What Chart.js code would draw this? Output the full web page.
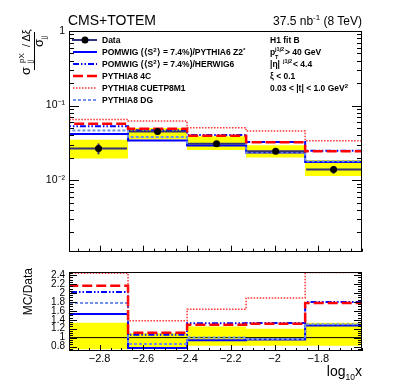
<!DOCTYPE html>
<html>
<head>
<meta charset="utf-8">
<script src="https://cdn.jsdelivr.net/npm/chart.js@4.4.1/dist/chart.umd.min.js"></script>
<style>
body { margin: 0; background: #fff; }
#wrap { position: relative; width: 407px; height: 391px; }
canvas { position: absolute; left: 0; }
#top { top: 0; }
#ratio { top: 262px; }
svg { position: absolute; left: 0; top: 0; }
text { font-family: "Liberation Sans", Arial, Helvetica, sans-serif; fill: #000; }
</style>
</head>
<body>
<div id="wrap">
<canvas id="top" width="407" height="262"></canvas>
<canvas id="ratio" width="407" height="129"></canvas>
<svg width="407" height="391">
  <text x="68" y="25" font-size="14">CMS+TOTEM</text>
  <text x="362" y="25" font-size="12" text-anchor="end">37.5 nb<tspan dy="-5" font-size="8">-1</tspan><tspan dy="5"> (8 TeV)</tspan></text>

  <!-- y title of the top panel -->
  <g transform="translate(0,75) rotate(-90)" font-size="13">
    <text x="0" y="30">σ</text>
    <text x="12" y="24" font-size="8">pX</text>
    <text x="12" y="32" font-size="7">jj</text>
    <text x="28" y="30" font-size="11">/ Δξ</text>
    <line x1="5" x2="43" y1="34.5" y2="34.5" stroke="#000" stroke-width="1"/>
    <text x="28" y="43">σ</text>
    <text x="36" y="45.5" font-size="7">jj</text>
  </g>

  <!-- legend -->
  <g font-size="8.5" font-weight="bold">
    <line x1="72" x2="97" y1="40" y2="40" stroke="#30307a" stroke-width="2"/>
    <circle cx="85" cy="40" r="3.5" fill="#000"/>
    <text x="102" y="43">Data</text>
    <line x1="73" x2="97" y1="52" y2="52" stroke="#0000ff" stroke-width="2"/>
    <text x="102" y="55">POMWIG (⟨S<tspan dy="-3" font-size="6">2</tspan><tspan dy="3">⟩ = 7.4%)/PYTHIA6 Z2</tspan><tspan dy="-3" font-size="6">*</tspan></text>
    <line x1="73" x2="97" y1="64" y2="64" stroke="#0000ff" stroke-width="2" stroke-dasharray="6 2 1.5 2 1.5 2"/>
    <text x="102" y="67">POMWIG (⟨S<tspan dy="-3" font-size="6">2</tspan><tspan dy="3">⟩ = 7.4%)/HERWIG6</tspan></text>
    <line x1="73" x2="97" y1="76" y2="76" stroke="#ff0000" stroke-width="2.5" stroke-dasharray="10 4"/>
    <text x="102" y="79">PYTHIA8 4C</text>
    <line x1="73" x2="97" y1="88" y2="88" stroke="#ff3333" stroke-width="1.5" stroke-dasharray="1.5 1.5"/>
    <text x="102" y="91">PYTHIA8 CUETP8M1</text>
    <line x1="73" x2="97" y1="100" y2="100" stroke="#6f8fe8" stroke-width="2" stroke-dasharray="3 2"/>
    <text x="102" y="103">PYTHIA8 DG</text>

    <text x="270" y="43">H1 fit B</text>
    <text x="270" y="55">p</text>
    <text x="275" y="51" font-size="5.5">j1j2</text>
    <text x="275" y="58.5" font-size="5.5">T</text>
    <text x="285" y="55">&gt; 40 GeV</text>
    <text x="270" y="67">|η|</text>
    <text x="283" y="63" font-size="5.5">j1j2</text>
    <text x="293" y="67">&lt; 4.4</text>
    <text x="270" y="79">ξ &lt; 0.1</text>
    <text x="270" y="91">0.03 &lt; |t| &lt; 1.0 GeV<tspan dy="-3.5" font-size="6">2</tspan></text>
  </g>

  <text transform="translate(32,268) rotate(-90)" text-anchor="end" font-size="12">MC/Data</text>
  <text x="362" y="376" text-anchor="end" font-size="14">log<tspan dy="4" font-size="8.5">10</tspan><tspan dy="-4">x</tspan></text>
</svg>
</div>
<script>
// bins in log10(x)
const edges = [-2.94, -2.67, -2.40, -2.13, -1.86, -1.60];
const centers = [-2.805, -2.535, -2.265, -1.995, -1.73];

// top panel: data and systematic band
const dataVal = [0.0266, 0.0450, 0.0309, 0.0245, 0.0139];
const dataLo = [0.0222, 0.0425, 0.0290, 0.0228, 0.0122];
const dataHi = [0.0310, 0.0478, 0.0330, 0.0262, 0.0155];
const bandLo = [0.0195, 0.0350, 0.0254, 0.0201, 0.0114];
const bandHi = [0.0348, 0.0500, 0.0388, 0.0294, 0.0186];

// top panel: MC predictions, plus the underflow value that sets the left edge
const z2 = [0.0416, 0.0341, 0.0291, 0.0235, 0.0176];
const herwig = [0.0529, 0.0469, 0.0405, 0.0326, 0.0248];
const p4c = [0.0571, 0.0490, 0.0395, 0.0322, 0.0245];
const cuetp = [0.0650, 0.0620, 0.0503, 0.0455, 0.0338];
const dg = [0.0465, 0.0378, 0.0305, 0.0237, 0.0180];
const under = { z2: 0.052, herwig: 0.060, p4c: 0.075, cuetp: 0.085, dg: 0.057 };

// ratio panel
const rZ2 = [1.53, 0.77, 0.94, 0.96, 1.27];
const rHerwig = [2.02, 1.065, 1.32, 1.33, 1.80];
const r4c = [2.16, 1.11, 1.29, 1.31, 1.775];
const rCuetp = [2.44, 1.38, 1.635, 1.89, 2.46];
const rDg = [1.775, 0.855, 1.00, 0.97, 1.30];
const rBandLo = [0.74, 0.78, 0.82, 0.82, 0.82];
const rBandHi = [1.335, 1.10, 1.25, 1.20, 1.335];
const rUnder = 5;
const refLine = 1;

// ticks
const xTickVals = [-2.8, -2.6, -2.4, -2.2, -2.0, -1.8];
const xTickLabels = ['\u22122.8', '\u22122.6', '\u22122.4', '\u22122.2', '\u22122', '\u22121.8'];
const topTickVals = [0.01, 0.1, 1];
const topTickLabels = ['10\u207B\u00B2', '10\u207B\u00B9', '1'];
const ratioTickVals = [0.8, 1, 1.2, 1.4, 1.6, 1.8, 2, 2.2, 2.4];
const ratioTickLabels = ['0.8', '1', '1.2', '1.4', '1.6', '1.8', '2', '2.2', '2.4'];

const FONT = '"Liberation Sans", Arial, Helvetica, sans-serif';
const dataLine = '#30307a';

const styles = {
  z2: { borderColor: '#0000ff', borderWidth: 2, borderDash: [] },
  herwig: { borderColor: '#0000ff', borderWidth: 2, borderDash: [6, 2, 1.5, 2, 1.5, 2] },
  p4c: { borderColor: '#ff0000', borderWidth: 2.5, borderDash: [10, 4] },
  cuetp: { borderColor: '#ff3333', borderWidth: 1.5, borderDash: [1.5, 1.5] },
  dg: { borderColor: '#6f8fe8', borderWidth: 2, borderDash: [3, 2] }
};

function hist(vals, u) {
  const pts = [];
  if (u !== undefined) pts.push({ x: edges[0], y: u });
  vals.forEach((v, i) => pts.push({ x: edges[i], y: v }));
  pts.push({ x: edges[edges.length - 1], y: vals[vals.length - 1] });
  return pts;
}

// 'before' in Chart.js = go across first, then step
function histSet(vals, u, st) {
  return Object.assign({ data: hist(vals, u), stepped: 'before', pointRadius: 0, fill: false,
    borderCapStyle: 'butt', borderJoinStyle: 'miter' }, st);
}

function bandSets(lo, hi) {
  return [
    { data: hist(lo), stepped: 'before', pointRadius: 0, borderWidth: 0, borderColor: 'rgba(0,0,0,0)', fill: false },
    { data: hist(hi), stepped: 'before', pointRadius: 0, borderWidth: 0, borderColor: 'rgba(0,0,0,0)',
      backgroundColor: '#ffff00', fill: '-1' }
  ];
}

// inward ticks and frame, ROOT style
function frameTicks(o) {
  return {
    id: 'frameTicks',
    afterDatasetsDraw(chart) {
      const { ctx, chartArea: a, scales: { x, y } } = chart;
      ctx.save();
      ctx.strokeStyle = '#000';
      ctx.lineWidth = 1;
      ctx.setLineDash([]);
      ctx.beginPath();
      const xt = (list, len) => list.forEach(v => {
        const px = Math.round(x.getPixelForValue(v)) + 0.5;
        ctx.moveTo(px, a.bottom); ctx.lineTo(px, a.bottom - len);
      });
      const yt = (list, len) => list.forEach(v => {
        const py = Math.round(y.getPixelForValue(v)) + 0.5;
        ctx.moveTo(a.left, py); ctx.lineTo(a.left + len, py);
        ctx.moveTo(a.right, py); ctx.lineTo(a.right - len, py);
      });
      xt(xTickVals, o.xLen[0]);
      xt(o.xMinor, o.xLen[1]);
      yt(o.yMajor, o.yLen[0]);
      yt(o.yMinor, o.yLen[1]);
      ctx.stroke();
      ctx.strokeRect(Math.round(a.left) + 0.5, Math.round(a.top) + 0.5,
        Math.round(a.right - a.left) - 1, Math.round(a.bottom - a.top) - 1);
      ctx.restore();
    }
  };
}

const xMinor = [];
for (let v = -2.9; v < -1.6; v += 0.05) xMinor.push(+v.toFixed(2));
const logMinor = [];
[0.001, 0.01, 0.1].forEach(d => { for (let k = 2; k <= 9; k++) if (k * d > 0.0011) logMinor.push(k * d); });
const ratioMinor = [];
for (let v = 0.75; v < 2.47; v += 0.05) ratioMinor.push(+v.toFixed(2));

const errBars = {
  id: 'errBars',
  beforeDatasetDraw(chart, args) {
    if (args.index !== 0) return;
    const { ctx, scales: { x, y } } = chart;
    ctx.save();
    ctx.strokeStyle = dataLine;
    ctx.lineWidth = 2;
    ctx.beginPath();
    dataVal.forEach((v, i) => {
      const x0 = x.getPixelForValue(edges[i]), x1 = x.getPixelForValue(edges[i + 1]);
      const xc = x.getPixelForValue(centers[i]);
      const yv = y.getPixelForValue(v);
      ctx.moveTo(x0 + 1, yv); ctx.lineTo(x1 - 1, yv);
      ctx.moveTo(xc, y.getPixelForValue(dataLo[i])); ctx.lineTo(xc, y.getPixelForValue(dataHi[i]));
    });
    ctx.stroke();
    ctx.restore();
  }
};

const xScale = (display) => ({
  type: 'linear', min: edges[0], max: edges[edges.length - 1], bounds: 'data', display: display,
  grid: { display: false, drawTicks: false }, border: { display: false },
  afterBuildTicks: s => { s.ticks = xTickVals.map(v => ({ value: v })); },
  afterFit: s => { if (display) s.height = 40; },
  ticks: { autoSkip: false, maxRotation: 0, padding: 1, color: '#000',
    font: { family: FONT, size: 11 }, callback: (v, i) => xTickLabels[i] }
});

// top panel
new Chart(document.getElementById('top'), {
  type: 'line',
  data: {
    datasets: [
      { data: centers.map((c, i) => ({ x: c, y: dataVal[i] })), showLine: false, pointRadius: 3.5,
        pointBackgroundColor: '#000', pointBorderColor: '#000', pointBorderWidth: 0 },
      histSet(cuetp, under.cuetp, styles.cuetp),
      histSet(p4c, under.p4c, styles.p4c),
      histSet(herwig, under.herwig, styles.herwig),
      histSet(dg, under.dg, styles.dg),
      histSet(z2, under.z2, styles.z2),
      ...bandSets(bandLo, bandHi)
    ]
  },
  options: {
    responsive: false, animation: false,
    layout: { padding: { top: 31, right: 45, bottom: 3, left: 0 } },
    plugins: { legend: { display: false }, tooltip: { enabled: false } },
    scales: {
      x: xScale(false),
      y: {
        type: 'logarithmic', min: 0.0011, max: 1, bounds: 'data',
        grid: { display: false, drawTicks: false }, border: { display: false },
        afterBuildTicks: s => { s.ticks = topTickVals.map(v => ({ value: v })); },
        afterFit: s => { s.width = 69; },
        ticks: { autoSkip: false, padding: 4, color: '#000', font: { family: FONT, size: 10.5 },
          callback: (v, i) => topTickLabels[i] }
      }
    }
  },
  plugins: [errBars, frameTicks({ xMinor: xMinor, xLen: [6, 3], yMajor: topTickVals, yMinor: logMinor, yLen: [10, 5] })]
});

// ratio panel
new Chart(document.getElementById('ratio'), {
  type: 'line',
  data: {
    datasets: [
      histSet(rCuetp, rUnder, styles.cuetp),
      histSet(r4c, rUnder, styles.p4c),
      histSet(rHerwig, rUnder, styles.herwig),
      histSet(rDg, rUnder, styles.dg),
      histSet(rZ2, rUnder, styles.z2),
      { data: [{ x: edges[0], y: refLine }, { x: edges[edges.length - 1], y: refLine }],
        pointRadius: 0, borderColor: '#000', borderWidth: 1, fill: false },
      ...bandSets(rBandLo, rBandHi)
    ]
  },
  options: {
    responsive: false, animation: false,
    layout: { padding: { top: 5, right: 45, bottom: 0, left: 0 } },
    plugins: { legend: { display: false }, tooltip: { enabled: false } },
    scales: {
      x: xScale(true),
      y: {
        type: 'linear', min: 0.7, max: 2.47, bounds: 'data',
        grid: { display: false, drawTicks: false }, border: { display: false },
        afterBuildTicks: s => { s.ticks = ratioTickVals.map(v => ({ value: v })); },
        afterFit: s => { s.width = 69; },
        ticks: { autoSkip: false, padding: 4, color: '#000', font: { family: FONT, size: 10 },
          callback: (v, i) => ratioTickLabels[i] }
      }
    }
  },
  plugins: [frameTicks({ xMinor: xMinor, xLen: [6, 3], yMajor: ratioTickVals, yMinor: ratioMinor, yLen: [8, 4] })]
});
</script>
</body>
</html>
